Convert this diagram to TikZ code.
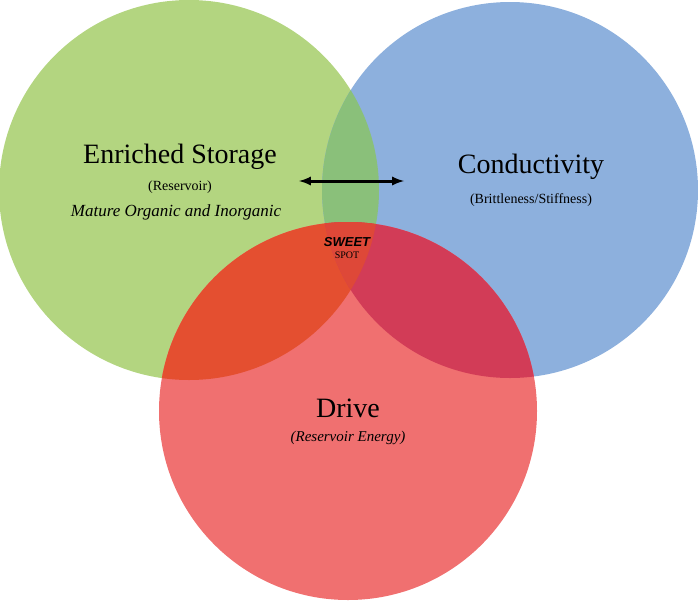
\documentclass[tikz,border=0pt]{standalone}
\usepackage{fontspec}
\setmainfont{Liberation Serif}
\newfontfamily\sans{Liberation Sans}
\definecolor{cg}{HTML}{B3D580}
\definecolor{cb}{HTML}{8DB0DD}
\definecolor{cr}{HTML}{F07070}
\definecolor{cgb}{HTML}{8AC07A}
\definecolor{cgr}{HTML}{E44F30}
\definecolor{cbr}{HTML}{D23C57}
\definecolor{cgbr}{HTML}{DE4838}
\begin{document}
\begin{tikzpicture}[x=1pt,y=-1pt]
\useasboundingbox (0,0) rectangle (698,600);
\def\G{(189,190) circle (190)}
\def\B{(510,190) circle (188)}
\def\R{(348,411) circle (189)}
\fill[cg] \G; \fill[cb] \B; \fill[cr] \R;
\begin{scope}\clip \G; \fill[cgb] \B; \fill[cgr] \R; \end{scope}
\begin{scope}\clip \B; \fill[cbr] \R; \end{scope}
\begin{scope}\clip \G; \clip \B; \fill[cgbr] \R; \end{scope}
\node (es) at (180,157) {\fontsize{28}{30}\selectfont Enriched Storage};
\node (res) at (180,187) {\fontsize{14}{16}\selectfont (Reservoir)};
\node (mat) at (176,212) {\fontsize{17}{19}\selectfont\itshape Mature Organic and Inorganic};
\node (co) at (531,167) {\fontsize{28}{30}\selectfont Conductivity};
\node (br) at (531,200) {\fontsize{14}{16}\selectfont (Brittleness/Stiffness)};
\node (dr) at (348,408) {\fontsize{28}{30}\selectfont Drive};
\node (re) at (348,438) {\fontsize{15}{17}\selectfont\itshape (Reservoir Energy)};
\node[align=center] (sw) at (347,248) {\sans\bfseries\itshape\fontsize{13}{20}\selectfont SWEET\\SPOT};
\coordinate (a1) at (299,181); \coordinate (a2) at (404,181);
\draw[line width=3pt,<->,>={latex}] (a1) -- (a2);
\end{tikzpicture}
\end{document}
